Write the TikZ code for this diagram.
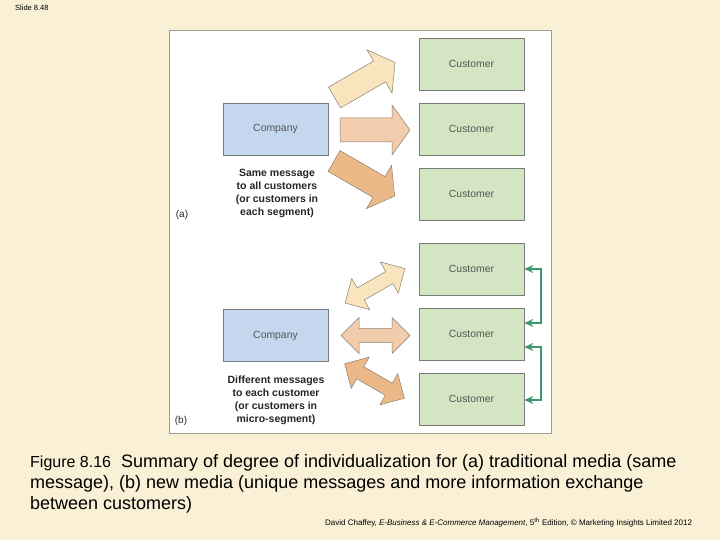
\documentclass[tikz,border=0pt]{standalone}
\usepackage{fontspec}
\setmainfont{Liberation Sans}
\usetikzlibrary{arrows.meta}
\definecolor{bg}{HTML}{F9F0D5}
\definecolor{panelline}{HTML}{A09A90}
\definecolor{boxline}{HTML}{7A7A7A}
\definecolor{boxtext}{HTML}{555555}
\definecolor{compfill}{HTML}{C4D7EE}
\definecolor{custfill}{HTML}{D4E5C4}
\definecolor{arrA}{HTML}{F8E5BE}
\definecolor{arrB}{HTML}{F1CDAD}
\definecolor{arrC}{HTML}{ECB888}
\definecolor{arrline}{HTML}{8A8070}
\definecolor{linkgreen}{HTML}{3C976C}
\tikzset{
  pics/sarrow/.style={code={\path[msg,fill=#1] (0,-12) -- (52,-12) -- (52,-25) -- (70,0) -- (52,25) -- (52,12) -- (0,12) -- cycle;}},
  pics/darrow/.style={code={\path[msg,fill=#1] (-34.5,0) -- (-16.5,-18) -- (-16.5,-7) -- (16.5,-7) -- (16.5,-18) -- (34.5,0) -- (16.5,18) -- (16.5,7) -- (-16.5,7) -- (-16.5,18) -- cycle;}}
}
\begin{document}
\begin{tikzpicture}[x=1pt,y=-1pt,
  box/.style={draw=boxline, line width=0.7pt, minimum width=105pt, minimum height=52pt, inner sep=0pt, font=\fontsize{10.4}{12}\selectfont, text=boxtext},
  company/.style={box, fill=compfill},
  customer/.style={box, fill=custfill},
  msg/.style={draw=arrline, line width=0.5pt, line join=miter},
  link/.style={draw=linkgreen, line width=1.8pt, {Stealth[length=9pt,width=8pt,inset=3pt]}-{Stealth[length=9pt,width=8pt,inset=3pt]}},
  note/.style={align=center, font=\bfseries\fontsize{10.5}{13}\selectfont, text=black!85, inner sep=0pt},
  tag/.style={font=\fontsize{10}{12}\selectfont, text=black!85, inner sep=0pt},
  captext/.style={anchor=base west, inner sep=0pt, font=\fontsize{18}{21}\selectfont}]
\useasboundingbox[fill=bg] (0,0) rectangle (720,540);
\node[anchor=base west, inner sep=0pt, font=\fontsize{7.5}{8}\selectfont] (slide) at (15,11) {Slide 8.48};
\draw[fill=white, draw=panelline, line width=0.8pt] (169,30) rectangle (551,433);
% (a)
\node[company] (compa) at (275.5,129) {Company};
\node[customer] (c1) at (471.5,64) {Customer};
\node[customer] (c2) at (471.5,129) {Customer};
\node[customer] (c3) at (471.5,194) {Customer};
\pic[rotate=30] at (334.5,97.5) {sarrow=arrA};
\pic at (340,130) {sarrow=arrB};
\pic[rotate=-30] at (334,161) {sarrow=arrC};
\node[note] (notea) at (277,193.5) {Same message\\to all customers\\(or customers in\\each segment)};
\node[tag] (taga) at (182,215) {(a)};
% (b)
\node[company] (compb) at (275.5,335.5) {Company};
\node[customer] (c4) at (471.5,269) {Customer};
\node[customer] (c5) at (471.5,334) {Customer};
\node[customer] (c6) at (471.5,399) {Customer};
\pic[rotate=30] at (375,285.8) {darrow=arrA};
\pic at (375.5,335.5) {darrow=arrB};
\pic[rotate=-30] at (374.5,381) {darrow=arrC};
\node[note] (noteb) at (276,400.5) {Different messages\\to each customer\\(or customers in\\micro-segment)};
\node[tag] (tagb) at (181,421) {(b)};
\draw[link] (c4.east) -- ++(17,0) |- ([yshift=11pt]c5.east);
\draw[link] ([yshift=-13pt]c5.east) -- ++(17,0) |- ([yshift=-1pt]c6.east);
% caption
\node[captext] (cap1) at (30,467) {{\fontsize{16}{21}\selectfont Figure 8.16}\ \ Summary of degree of individualization for (a) traditional media (same};
\node[captext] (cap2) at (30,488) {message), (b) new media (unique messages and more information exchange};
\node[captext] (cap3) at (30,509) {between customers)};
\node[anchor=base west, inner sep=0pt, font=\fontsize{8}{9}\selectfont] (foot) at (325,525) {David Chaffey, \textit{E-Business \& E-Commerce Management}, 5\textsuperscript{th} Edition, © Marketing Insights Limited 2012};
\end{tikzpicture}
\end{document}
